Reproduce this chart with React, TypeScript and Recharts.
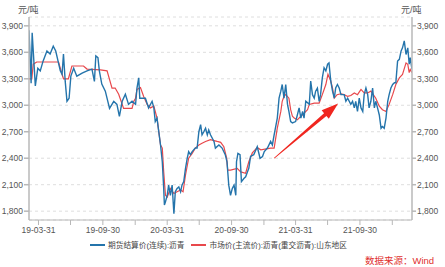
import { LineChart, Line, XAxis, YAxis, CartesianGrid, ReferenceLine } from 'recharts'

// 期货结算价(连续):沥青
const futuresDates = [
  '2019-03-04', '2019-03-10', '2019-03-13', '2019-03-22', '2019-03-29', '2019-04-05', '2019-04-13', '2019-04-24',
  '2019-05-03', '2019-05-12', '2019-05-19', '2019-06-01', '2019-06-06', '2019-06-10', '2019-06-15', '2019-06-20',
  '2019-06-26', '2019-07-01', '2019-07-09', '2019-07-18', '2019-08-02', '2019-08-16', '2019-08-30', '2019-09-06',
  '2019-09-10', '2019-09-16', '2019-09-20', '2019-09-27', '2019-10-07', '2019-10-19', '2019-10-31', '2019-11-09',
  '2019-11-16', '2019-11-24', '2019-12-03', '2019-12-12', '2019-12-22', '2020-01-01', '2020-01-05', '2020-01-10',
  '2020-01-13', '2020-01-20', '2020-01-29', '2020-02-07', '2020-02-17', '2020-02-22', '2020-02-26', '2020-03-02',
  '2020-03-07', '2020-03-12', '2020-03-17', '2020-03-21', '2020-03-23', '2020-03-26', '2020-03-31', '2020-04-04',
  '2020-04-09', '2020-04-14', '2020-04-19', '2020-04-23', '2020-04-28', '2020-05-03', '2020-05-08', '2020-05-12',
  '2020-05-17', '2020-05-22', '2020-05-27', '2020-05-31', '2020-06-05', '2020-06-10', '2020-06-19', '2020-06-24',
  '2020-06-29', '2020-07-04', '2020-07-08', '2020-07-13', '2020-07-18', '2020-07-23', '2020-07-27', '2020-08-01',
  '2020-08-11', '2020-08-15', '2020-08-25', '2020-09-03', '2020-09-12', '2020-09-17', '2020-09-22', '2020-09-27',
  '2020-10-02', '2020-10-07', '2020-10-12', '2020-10-14', '2020-10-18', '2020-10-24', '2020-10-28', '2020-11-04',
  '2020-11-09', '2020-11-14', '2020-11-18', '2020-11-23', '2020-12-02', '2020-12-12', '2020-12-20', '2020-12-27',
  '2021-01-01', '2021-01-10', '2021-01-19', '2021-01-24', '2021-01-29', '2021-02-07', '2021-02-12', '2021-02-17',
  '2021-02-21', '2021-02-26', '2021-03-03', '2021-03-08', '2021-03-12', '2021-03-17', '2021-03-22', '2021-03-31',
  '2021-04-05', '2021-04-10', '2021-04-15', '2021-04-20', '2021-04-24', '2021-04-29', '2021-05-09', '2021-05-13',
  '2021-05-18', '2021-05-23', '2021-05-27', '2021-06-01', '2021-06-06', '2021-06-10', '2021-06-15', '2021-06-20',
  '2021-06-25', '2021-06-30', '2021-07-04', '2021-07-09', '2021-07-14', '2021-07-19', '2021-07-23', '2021-07-28',
  '2021-08-02', '2021-08-07', '2021-08-16', '2021-08-21', '2021-08-26', '2021-09-04', '2021-09-09', '2021-09-14',
  '2021-09-18', '2021-09-23', '2021-09-28', '2021-10-03', '2021-10-08', '2021-10-12', '2021-10-17', '2021-10-22',
  '2021-10-26', '2021-10-31', '2021-11-05', '2021-11-10', '2021-11-14', '2021-11-19', '2021-11-24', '2021-11-29',
  '2021-12-03', '2021-12-08', '2021-12-13', '2021-12-18', '2021-12-22', '2021-12-27', '2022-01-01', '2022-01-06',
  '2022-01-10', '2022-01-15', '2022-01-20', '2022-01-25', '2022-01-29', '2022-02-03', '2022-02-08', '2022-02-13',
  '2022-02-17', '2022-02-20', '2022-02-25',
]
const futuresPrices = [
  3850, 3250, 3820, 3220, 3420, 3390, 3500, 3615,
  3580, 3670, 3615, 3390, 3350, 3580, 3270, 3045,
  3080, 3330, 3420, 3330, 3365, 3390, 3410, 3270,
  3560, 3540, 3390, 3240, 3160, 2965, 3045, 3010,
  2875, 3045, 3125, 3010, 3045, 3010, 3195, 3310,
  3080, 3080, 3080, 2970, 3045, 2970, 2815, 2855,
  2700, 2550, 2360, 2057, 1870, 1905, 1980, 2095,
  1980, 2095, 1770, 2020, 2057, 2075, 2020, 2095,
  2135, 2285, 2400, 2475, 2440, 2475, 2515, 2515,
  2700, 2780, 2665, 2700, 2740, 2665, 2720, 2665,
  2590, 2515, 2550, 2515, 2440, 2360, 2095, 1980,
  2057, 2095, 1980, 2360, 2455, 2440, 2135, 2170,
  2190, 2245, 2285, 2420, 2440, 2530, 2400, 2420,
  2475, 2515, 2590, 2550, 2665, 2855, 3080, 3160,
  3235, 3080, 3235, 3010, 2930, 2815, 2800, 2815,
  2890, 2970, 2855, 2930, 2855, 3045, 3010, 3275,
  3120, 3080, 3160, 3195, 3045, 3120, 3310, 3425,
  3390, 3465, 3480, 3275, 3160, 3080, 3195, 3235,
  3195, 3120, 3120, 3045, 3080, 3010, 3045, 2970,
  3045, 2930, 3080, 2970, 2930, 3120, 3195, 3120,
  2970, 3045, 3195, 2970, 3045, 2970, 2890, 2740,
  2760, 2740, 2855, 3045, 3120, 3195, 3235, 3255,
  3255, 3500, 3520, 3615, 3650, 3730, 3575, 3650,
  3465, 3540, 3405,
]

// 市场价(主流价):沥青(重交沥青):山东地区
const spotDates = [
  '2019-03-04', '2019-03-12', '2019-03-16', '2019-03-26', '2019-05-27', '2019-06-01', '2019-06-10', '2019-06-24',
  '2019-07-04', '2019-08-06', '2019-08-16', '2019-09-23', '2019-10-12', '2019-10-26', '2019-11-04', '2019-11-14',
  '2019-11-28', '2019-12-22', '2019-12-27', '2020-01-01', '2020-01-05', '2020-01-15', '2020-01-24', '2020-02-03',
  '2020-02-12', '2020-02-22', '2020-03-02', '2020-03-12', '2020-03-17', '2020-03-21', '2020-03-26', '2020-03-31',
  '2020-04-09', '2020-04-19', '2020-04-28', '2020-05-08', '2020-05-15', '2020-05-22', '2020-05-31', '2020-06-10',
  '2020-06-19', '2020-06-29', '2020-07-08', '2020-07-18', '2020-08-01', '2020-08-11', '2020-08-20', '2020-08-30',
  '2020-09-08', '2020-09-16', '2020-09-19', '2020-09-27', '2020-10-16', '2020-10-26', '2020-11-09', '2020-11-18',
  '2020-11-28', '2020-12-12', '2020-12-22', '2021-01-19', '2021-01-29', '2021-02-07', '2021-02-17', '2021-02-21',
  '2021-02-26', '2021-03-03', '2021-03-12', '2021-03-17', '2021-03-22', '2021-03-27', '2021-04-05', '2021-04-15',
  '2021-04-24', '2021-05-04', '2021-05-09', '2021-05-23', '2021-06-06', '2021-06-15', '2021-06-25', '2021-07-01',
  '2021-07-09', '2021-07-14', '2021-07-19', '2021-07-27', '2021-08-07', '2021-08-16', '2021-08-26', '2021-09-04',
  '2021-09-14', '2021-09-23', '2021-10-03', '2021-10-12', '2021-10-22', '2021-10-31', '2021-11-14', '2021-11-24',
  '2021-12-03', '2021-12-13', '2021-12-22', '2022-01-01', '2022-01-10', '2022-01-20', '2022-01-29', '2022-02-08',
  '2022-02-13', '2022-02-17', '2022-02-20', '2022-02-25',
]
const spotPrices = [
  3300, 3300, 3465, 3490, 3490, 3420, 3300, 3300,
  3445, 3445, 3410, 3400, 3390, 3195, 3195, 3125,
  2965, 2965, 3045, 3080, 3180, 3200, 3100, 3010,
  2970, 2990, 2855, 2550, 2515, 2245, 1980, 1960,
  2057, 2000, 2020, 2040, 2020, 2210, 2400, 2455,
  2515, 2550, 2570, 2590, 2610, 2600, 2590, 2580,
  2530, 2400, 2265, 2265, 2285, 2245, 2230, 2360,
  2460, 2520, 2495, 2515, 2515, 2740, 2930, 3045,
  3100, 3120, 3080, 2950, 2875, 2855, 2835, 2875,
  2910, 2950, 3010, 3025, 3025, 3120, 3235, 3350,
  3275, 3195, 3080, 3120, 3130, 3120, 3100, 3110,
  3140, 3120, 3180, 3140, 3140, 3160, 3080, 2990,
  2950, 2930, 3010, 3120, 3235, 3310, 3350, 3480,
  3465, 3370, 3405, 3370,
]

const yTicks = [1800, 2100, 2400, 2700, 3000, 3300, 3600, 3900]
const xTickDates = [
  '2019-03-31', '2019-06-30', '2019-09-30', '2019-12-31', '2020-03-31', '2020-06-30',
  '2020-09-30', '2020-12-31', '2021-03-31', '2021-06-30', '2021-09-30', '2021-12-31',
]
const xLabelDates = ['2019-03-31', '2019-09-30', '2020-03-31', '2020-09-30', '2021-03-31', '2021-09-30']
const arrowFrom = { date: '2021-01-29', value: 2400 }
const arrowTo = { date: '2021-07-30', value: 3020 }

const toTs = (d: string) => Date.parse(d)

const futuresData = futuresDates.map((d, i) => ({ t: toTs(d), v: futuresPrices[i] }))
const spotData = spotDates.map((d, i) => ({ t: toTs(d), v: spotPrices[i] }))
const xTicks = xTickDates.map(toTs)
const labelSet = new Set(xLabelDates.map(toTs))

const BLUE = '#2474ab'
const RED = '#e8484c'
const AXIS = '#b8b8b8'
const FONT = '"Liberation Sans", "Noto Sans CJK SC", sans-serif'

const formatX = (t: number) => {
  if (!labelSet.has(t)) return ''
  return new Date(t).toISOString().slice(2, 10)
}
const formatY = (v: number) => v.toLocaleString('en-US')

function Arrow(props: { x1?: number; y1?: number; x2?: number; y2?: number }) {
  const { x1 = 0, y1 = 0, x2 = 0, y2 = 0 } = props
  const dx = x2 - x1
  const dy = y2 - y1
  const len = Math.hypot(dx, dy)
  const ux = dx / len
  const uy = dy / len
  const nx = -uy
  const ny = ux
  const headLen = 17
  const headW = 5.5
  const bx = x2 - ux * headLen
  const by = y2 - uy * headLen
  const pts = [
    [x1 + nx * 0.4, y1 + ny * 0.4],
    [bx + nx * 1.8, by + ny * 1.8],
    [bx + nx * headW, by + ny * headW],
    [x2, y2],
    [bx - nx * headW, by - ny * headW],
    [bx - nx * 1.8, by - ny * 1.8],
    [x1 - nx * 0.4, y1 - ny * 0.4],
  ]
  return <polygon points={pts.map((p) => p.join(',')).join(' ')} fill="#f0261f" />
}

export default function App() {
  const tickStyle = { fontSize: 8.5, fill: '#555', fontFamily: FONT }
  return (
    <div style={{ position: 'absolute', left: 0, top: 0, width: 445, height: 267, background: '#fff', fontFamily: FONT }}>
      <LineChart
        width={445}
        height={267}
        margin={{ top: 17, right: 0, bottom: 33, left: 0 }}
      >
        <CartesianGrid yAxisId="left" vertical={false} stroke="#dedede" strokeDasharray="3 3" />
        <XAxis
          dataKey="t"
          type="number"
          scale="time"
          domain={[toTs('2019-03-04'), toTs('2022-02-25')]}
          ticks={xTicks}
          tickFormatter={formatX}
          interval={0}
          height={14}
          tickSize={5}
          tick={tickStyle}
          stroke={AXIS}
          allowDataOverflow
        />
        <YAxis
          yAxisId="left"
          orientation="left"
          type="number"
          domain={[1700, 4000]}
          ticks={yTicks}
          tickFormatter={formatY}
          width={29}
          tickSize={5}
          tickMargin={1}
          tick={tickStyle}
          stroke={AXIS}
          strokeWidth={1.5}
          allowDataOverflow
        />
        <YAxis
          yAxisId="right"
          orientation="right"
          type="number"
          domain={[1700, 4000]}
          ticks={yTicks}
          tickFormatter={formatY}
          width={33}
          tickSize={4}
          tickMargin={1}
          tick={tickStyle}
          stroke={AXIS}
          strokeWidth={1.5}
          allowDataOverflow
        />
        <Line
          yAxisId="left"
          data={spotData}
          dataKey="v"
          type="linear"
          stroke={RED}
          strokeWidth={1.2}
          dot={false}
          isAnimationActive={false}
        />
        <Line
          yAxisId="left"
          data={futuresData}
          dataKey="v"
          type="linear"
          stroke={BLUE}
          strokeWidth={1.4}
          dot={false}
          isAnimationActive={false}
        />
        <ReferenceLine
          yAxisId="left"
          segment={[
            { x: toTs(arrowFrom.date), y: arrowFrom.value },
            { x: toTs(arrowTo.date), y: arrowTo.value },
          ]}
          ifOverflow="visible"
          shape={Arrow}
        />
      </LineChart>

      <div style={{ position: 'absolute', left: 18, top: 3, fontSize: 9, color: '#555' }}>元/吨</div>
      <div style={{ position: 'absolute', left: 401, top: 3, fontSize: 9, color: '#555' }}>元/吨</div>

      <div style={{ position: 'absolute', left: 90, top: 239, display: 'flex', alignItems: 'center', fontSize: 7.7, color: '#444', whiteSpace: 'nowrap' }}>
        <span style={{ width: 15, height: 2, background: BLUE, display: 'inline-block', marginRight: 3 }} />
        <span>期货结算价(连续):沥青</span>
        <span style={{ width: 15, height: 2, background: RED, display: 'inline-block', marginLeft: 7, marginRight: 3 }} />
        <span>市场价(主流价):沥青(重交沥青):山东地区</span>
      </div>
      <div style={{ position: 'absolute', left: 365, top: 253, fontSize: 9.5, color: '#e0312f', whiteSpace: 'nowrap' }}>
        数据来源：Wind
      </div>
    </div>
  )
}
